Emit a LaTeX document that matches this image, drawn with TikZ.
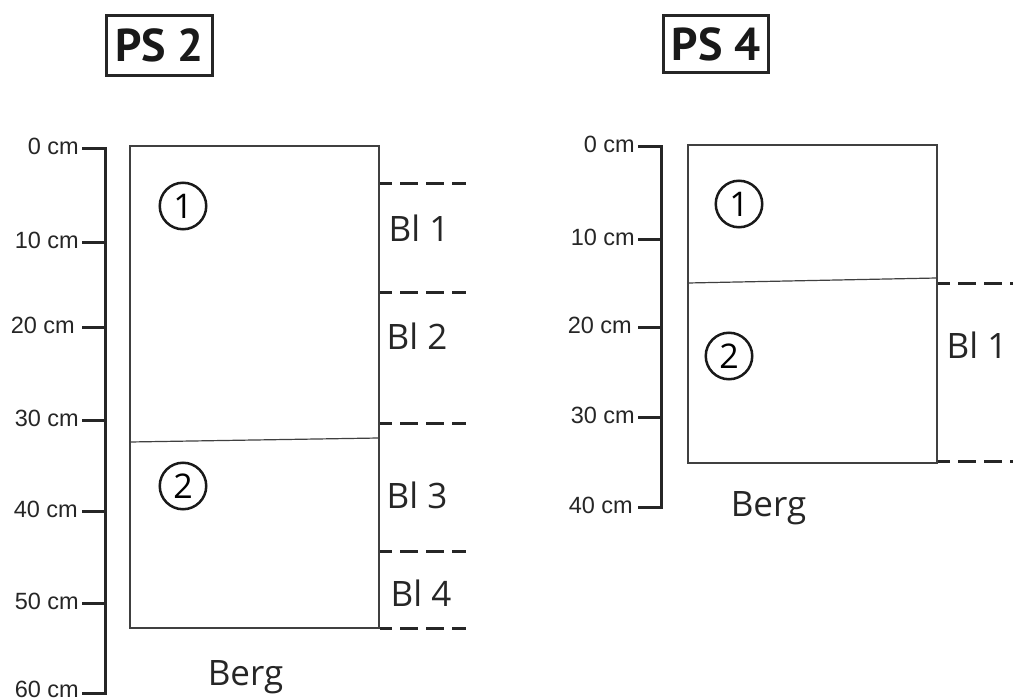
\documentclass[tikz,border=0pt]{standalone}
\usepackage{fontspec}
\newfontfamily\blfont{Open Sans}
\newfontfamily\ttlfont{PT Sans}
\newfontfamily\axfont{Liberation Sans}
\begin{document}
\begin{tikzpicture}[x=1pt,y=-1pt,
  axis/.style={line width=3pt, line join=miter, draw=black!85},
  soil/.style={line width=1.4pt, draw=black!75},
  bnd/.style={line width=3pt, dash pattern=on 18pt off 8pt, dash phase=6pt, draw=black!85},
  tl/.style={font=\axfont\fontsize{23.5}{23.5}\selectfont, anchor=base east, inner sep=0, text=black!85},
  bl/.style={font=\blfont\fontsize{35}{35}\selectfont, inner sep=0, text=black!85},
  num/.style={circle, draw=black!90, line width=2.5pt, minimum size=46.5pt, inner sep=0, font=\blfont\fontsize{34}{34}\selectfont},
  ttl/.style={draw=black!85, line width=3pt, inner sep=0, font=\ttlfont\bfseries\fontsize{46}{46}\selectfont, text=black!90}
]
\fill[white] (0,0) rectangle (1013,700);
\useasboundingbox (0,0) rectangle (1013,700);

% ---------- PS 2 ----------
\node[ttl, minimum width=106pt, minimum height=60pt] (t2) at (159.5,45.5) {PS 2};

\draw[axis] (82,149) -- (105,149) -- (105,693) -- (82,693);
\foreach \y in {243,328,421,512,603} \draw[axis] (82,\y) -- (105,\y);
\node[tl] (a20) at (79,155) {0 cm};
\node[tl] (a21) at (79,249) {10 cm};
\node[tl] (a22) at (75,334) {20 cm};
\node[tl] (a23) at (79,427) {30 cm};
\node[tl] (a24) at (78,518) {40 cm};
\node[tl] (a25) at (79,609) {50 cm};
\node[tl] (a26) at (79,697) {60 cm};

\draw[soil] (130,146) rectangle (379,628);
\draw[soil, line width=1.2pt] (130,442) -- (379,438);
\node[num] (n21) at (183,206) {1};
\node[num] (n22) at (183,486) {2};

\foreach \y in {184,293,424,552,628} \draw[bnd] (380,\y) -- (466,\y);
\node[bl] (b21) at (419,228) {Bl 1};
\node[bl] (b22) at (417,336) {Bl 2};
\node[bl] (b23) at (417,495) {Bl 3};
\node[bl] (b24) at (421,593) {Bl 4};
\node[bl, anchor=base] (berg2) at (245.5,685) {Berg};

% ---------- PS 4 ----------
\node[ttl, minimum width=105pt, minimum height=57pt] (t4) at (716,44) {PS 4};

\draw[axis] (638,147) -- (661,147) -- (661,508) -- (638,508);
\foreach \y in {240,328,418} \draw[axis] (638,\y) -- (661,\y);
\node[tl] (a40) at (635,153) {0 cm};
\node[tl] (a41) at (635,246) {10 cm};
\node[tl] (a42) at (632,334) {20 cm};
\node[tl] (a43) at (635,424) {30 cm};
\node[tl] (a44) at (633,514) {40 cm};

\draw[soil] (688,145) rectangle (937,463);
\draw[soil, line width=1.2pt] (688,283) -- (937,278);
\node[num] (n41) at (739,204) {1};
\node[num] (n42) at (729,356) {2};

\foreach \y in {284,462} \draw[bnd] (938,\y) -- (1020,\y);
\node[bl] (b41) at (977,345) {Bl 1};
\node[bl, anchor=base] (berg4) at (768.5,517) {Berg};
\end{tikzpicture}
\end{document}
